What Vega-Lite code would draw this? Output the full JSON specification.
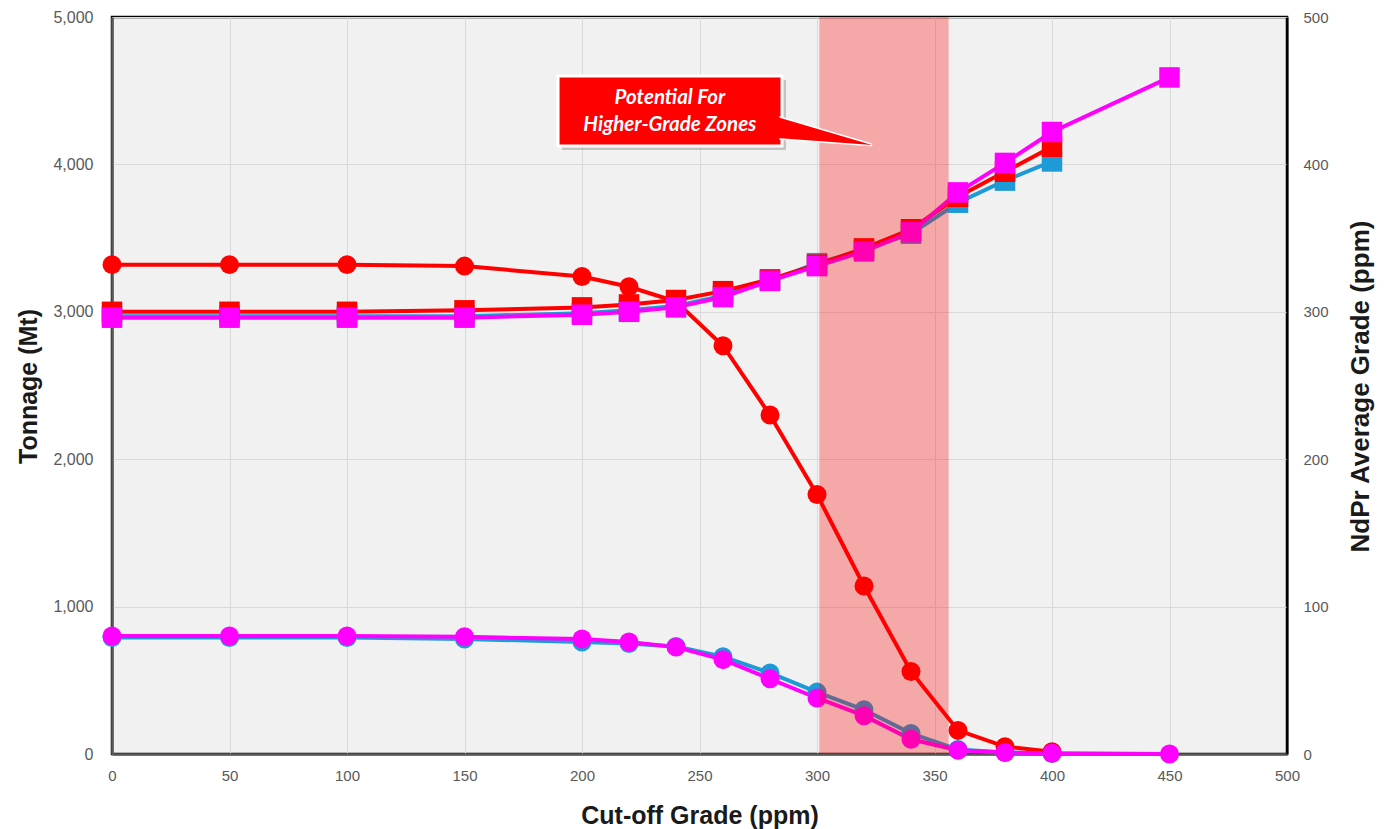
{
  "$schema": "https://vega.github.io/schema/vega-lite/v6.json",
  "width": 1175,
  "height": 737,
  "autosize": {"type": "none"},
  "padding": {"left": 112, "top": 17, "right": 109, "bottom": 75},
  "background": "white",
  "config": {
    "view": {"fill": "#f1f1f1", "stroke": "#000000", "strokeWidth": 2.5},
    "axis": {
      "labelFont": "Liberation Sans",
      "labelFontSize": 15,
      "labelColor": "#595959",
      "titleFont": "Liberation Sans",
      "titleFontSize": 25,
      "titleFontWeight": "bold",
      "titleColor": "#1a1a1a",
      "ticks": false,
      "gridColor": "#d9d9d9",
      "gridWidth": 1,
      "domainColor": "#595959",
      "domainWidth": 2.5
    }
  },
  "datasets": {
    "series": [
      {"cog": 0, "series": "Blue", "tonnage": 790, "grade": 297},
      {"cog": 50, "series": "Blue", "tonnage": 790, "grade": 297},
      {"cog": 100, "series": "Blue", "tonnage": 790, "grade": 297},
      {"cog": 150, "series": "Blue", "tonnage": 780, "grade": 297},
      {"cog": 200, "series": "Blue", "tonnage": 760, "grade": 299},
      {"cog": 220, "series": "Blue", "tonnage": 750, "grade": 301},
      {"cog": 240, "series": "Blue", "tonnage": 730, "grade": 304},
      {"cog": 260, "series": "Blue", "tonnage": 660, "grade": 311},
      {"cog": 280, "series": "Blue", "tonnage": 550, "grade": 321},
      {"cog": 300, "series": "Blue", "tonnage": 420, "grade": 333},
      {"cog": 320, "series": "Blue", "tonnage": 300, "grade": 342},
      {"cog": 340, "series": "Blue", "tonnage": 140, "grade": 353},
      {"cog": 360, "series": "Blue", "tonnage": 30, "grade": 374},
      {"cog": 380, "series": "Blue", "tonnage": 10, "grade": 389},
      {"cog": 400, "series": "Blue", "tonnage": 3, "grade": 402},
      {"cog": 0, "series": "Red", "tonnage": 3320, "grade": 300},
      {"cog": 50, "series": "Red", "tonnage": 3320, "grade": 300},
      {"cog": 100, "series": "Red", "tonnage": 3320, "grade": 300},
      {"cog": 150, "series": "Red", "tonnage": 3310, "grade": 301},
      {"cog": 200, "series": "Red", "tonnage": 3240, "grade": 303},
      {"cog": 220, "series": "Red", "tonnage": 3170, "grade": 305},
      {"cog": 240, "series": "Red", "tonnage": 3070, "grade": 308},
      {"cog": 260, "series": "Red", "tonnage": 2770, "grade": 314},
      {"cog": 280, "series": "Red", "tonnage": 2300, "grade": 322},
      {"cog": 300, "series": "Red", "tonnage": 1760, "grade": 332},
      {"cog": 320, "series": "Red", "tonnage": 1140, "grade": 343},
      {"cog": 340, "series": "Red", "tonnage": 560, "grade": 356},
      {"cog": 360, "series": "Red", "tonnage": 160, "grade": 378},
      {"cog": 380, "series": "Red", "tonnage": 50, "grade": 395},
      {"cog": 400, "series": "Red", "tonnage": 15, "grade": 412},
      {"cog": 0, "series": "Magenta", "tonnage": 800, "grade": 296},
      {"cog": 50, "series": "Magenta", "tonnage": 800, "grade": 296},
      {"cog": 100, "series": "Magenta", "tonnage": 800, "grade": 296},
      {"cog": 150, "series": "Magenta", "tonnage": 795, "grade": 296},
      {"cog": 200, "series": "Magenta", "tonnage": 780, "grade": 298},
      {"cog": 220, "series": "Magenta", "tonnage": 760, "grade": 300},
      {"cog": 240, "series": "Magenta", "tonnage": 725, "grade": 303},
      {"cog": 260, "series": "Magenta", "tonnage": 640, "grade": 310},
      {"cog": 280, "series": "Magenta", "tonnage": 510, "grade": 321},
      {"cog": 300, "series": "Magenta", "tonnage": 380, "grade": 331},
      {"cog": 320, "series": "Magenta", "tonnage": 260, "grade": 341},
      {"cog": 340, "series": "Magenta", "tonnage": 100, "grade": 354},
      {"cog": 360, "series": "Magenta", "tonnage": 25, "grade": 381},
      {"cog": 380, "series": "Magenta", "tonnage": 10, "grade": 401},
      {"cog": 400, "series": "Magenta", "tonnage": 5, "grade": 422},
      {"cog": 450, "series": "Magenta", "tonnage": 0, "grade": 459}
    ],
    "band": [{"start": 301, "end": 356}],
    "shadow": [{"x1": 191.5, "x2": 286.8, "y1": 4573, "y2": 4098}],
    "box": [{"x1": 189.8, "x2": 285.1, "y1": 4600, "y2": 4125}],
    "inner": [{"x1": 191, "x2": 284, "y1": 4585, "y2": 4140}],
    "tail": [
      {"tx": 283, "ty": 4322, "ty2": 4179},
      {"tx": 323.4, "ty": 4132, "ty2": 4132}
    ],
    "labels": [
      {"lx": 237.4, "ly": 4450, "label": "Potential For"},
      {"lx": 237.4, "ly": 4267, "label": "Higher-Grade Zones"}
    ]
  },
  "layer": [
    {
      "data": {"name": "series"},
      "encoding": {
        "x": {
          "field": "cog", "type": "quantitative", "title": "Cut-off Grade (ppm)",
          "scale": {"domain": [0, 500], "nice": false},
          "axis": {
            "values": [0, 50, 100, 150, 200, 250, 300, 350, 400, 450, 500],
            "grid": true,
            "labelFlush": false,
            "labelPadding": 14,
            "titleY": 61,
            "titleBaseline": "middle"
          }
        },
        "y": {
          "field": "tonnage", "type": "quantitative", "title": "Tonnage (Mt)",
          "scale": {"domain": [0, 5000], "nice": false},
          "axis": {
            "orient": "left",
            "values": [0, 1000, 2000, 3000, 4000, 5000],
            "format": ",.0f",
            "labelFontSize": 16,
            "grid": true,
            "labelPadding": 19,
            "titleX": -84,
            "titleY": 369,
            "titleBaseline": "middle"
          }
        },
        "color": {
          "field": "series", "type": "nominal", "legend": null,
          "scale": {"domain": ["Blue", "Red", "Magenta"], "range": ["#1e9ad6", "#ff0000", "#ff00ff"]}
        }
      },
      "layer": [
        {"mark": {"type": "line", "strokeWidth": 4}},
        {"mark": {"type": "point", "shape": "circle", "filled": true, "opacity": 1, "size": 360}}
      ]
    },
    {
      "data": {"name": "series"},
      "encoding": {
        "x": {"field": "cog", "type": "quantitative", "title": "Cut-off Grade (ppm)", "scale": {"domain": [0, 500], "nice": false}},
        "y": {
          "field": "grade", "type": "quantitative", "title": "NdPr Average Grade (ppm)",
          "scale": {"domain": [0, 500], "nice": false},
          "axis": {
            "orient": "right",
            "values": [0, 100, 200, 300, 400, 500],
            "grid": false,
            "labelPadding": 16,
            "domainColor": "#000000",
            "domainWidth": 2,
            "titleAngle": -90,
            "titleFontSize": 26,
            "titleX": 73,
            "titleY": 369,
            "titleBaseline": "middle"
          }
        },
        "color": {
          "field": "series", "type": "nominal", "legend": null,
          "scale": {"domain": ["Blue", "Red", "Magenta"], "range": ["#1e9ad6", "#ff0000", "#ff00ff"]}
        }
      },
      "layer": [
        {"mark": {"type": "line", "strokeWidth": 4}},
        {"mark": {"type": "point", "shape": "square", "filled": true, "opacity": 1, "size": 420}}
      ]
    },
    {
      "layer": [
        {
          "data": {"name": "band"},
          "mark": {"type": "rect", "color": "#ff0000", "opacity": 0.3},
          "encoding": {
            "x": {"field": "start", "type": "quantitative", "title": "Cut-off Grade (ppm)", "scale": {"domain": [0, 500], "nice": false}},
            "x2": {"field": "end"}
          }
        },
        {
          "data": {"name": "shadow"},
          "mark": {"type": "rect", "color": "#7f7f7f", "opacity": 0.4},
          "encoding": {
            "x": {"field": "x1", "type": "quantitative", "title": "Cut-off Grade (ppm)", "scale": {"domain": [0, 500], "nice": false}},
            "x2": {"field": "x2"},
            "y": {"field": "y1", "type": "quantitative", "scale": {"domain": [0, 5000], "nice": false}, "axis": null},
            "y2": {"field": "y2"}
          }
        },
        {
          "data": {"name": "box"},
          "mark": {"type": "rect", "color": "#ff0000", "stroke": "#ffffff", "strokeWidth": 3},
          "encoding": {
            "x": {"field": "x1", "type": "quantitative", "title": "Cut-off Grade (ppm)", "scale": {"domain": [0, 500], "nice": false}},
            "x2": {"field": "x2"},
            "y": {"field": "y1", "type": "quantitative", "scale": {"domain": [0, 5000], "nice": false}, "axis": null},
            "y2": {"field": "y2"}
          }
        },
        {
          "data": {"name": "tail"},
          "mark": {"type": "area", "color": "#ff0000", "stroke": "#ffffff", "strokeWidth": 3, "strokeJoin": "miter"},
          "encoding": {
            "x": {"field": "tx", "type": "quantitative", "title": "Cut-off Grade (ppm)", "scale": {"domain": [0, 500], "nice": false}},
            "y": {"field": "ty", "type": "quantitative", "scale": {"domain": [0, 5000], "nice": false}, "axis": null},
            "y2": {"field": "ty2"}
          }
        },
        {
          "data": {"name": "tail"},
          "mark": {"type": "area", "color": "#ff0000"},
          "encoding": {
            "x": {"field": "tx", "type": "quantitative", "title": "Cut-off Grade (ppm)", "scale": {"domain": [0, 500], "nice": false}},
            "y": {"field": "ty", "type": "quantitative", "scale": {"domain": [0, 5000], "nice": false}, "axis": null},
            "y2": {"field": "ty2"}
          }
        },
        {
          "data": {"name": "inner"},
          "mark": {"type": "rect", "color": "#ff0000"},
          "encoding": {
            "x": {"field": "x1", "type": "quantitative", "title": "Cut-off Grade (ppm)", "scale": {"domain": [0, 500], "nice": false}},
            "x2": {"field": "x2"},
            "y": {"field": "y1", "type": "quantitative", "scale": {"domain": [0, 5000], "nice": false}, "axis": null},
            "y2": {"field": "y2"}
          }
        },
        {
          "data": {"name": "labels"},
          "mark": {"type": "text", "color": "#ffffff", "font": "Lato", "fontSize": 20.5, "fontWeight": "bold", "fontStyle": "italic", "align": "center", "baseline": "middle"},
          "encoding": {
            "x": {"field": "lx", "type": "quantitative", "title": "Cut-off Grade (ppm)", "scale": {"domain": [0, 500], "nice": false}},
            "y": {"field": "ly", "type": "quantitative", "scale": {"domain": [0, 5000], "nice": false}, "axis": null},
            "text": {"field": "label", "type": "nominal"}
          }
        }
      ]
    }
  ],
  "resolve": {"scale": {"y": "independent"}}
}
